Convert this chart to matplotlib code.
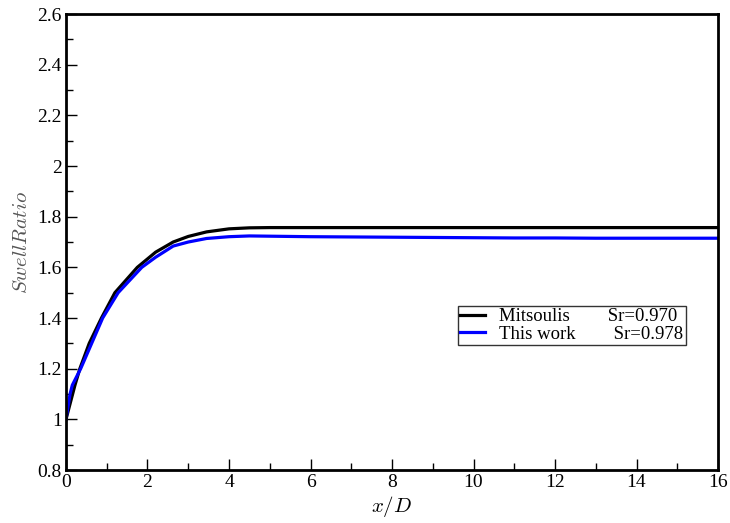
import numpy as np
import matplotlib.pyplot as plt
from matplotlib.ticker import MultipleLocator

# Mitsoulis reference curve
x_mit = [0.0, 0.22, 0.34, 0.57, 0.87, 1.2, 1.75, 2.2, 2.63, 3.0, 3.45, 4.0, 4.5, 5.0, 6.0, 8.0, 10.0, 12.0, 14.0, 16.0]
y_mit = [1.0, 1.135, 1.2, 1.3, 1.4, 1.5, 1.6, 1.66, 1.70, 1.722, 1.74, 1.752, 1.756, 1.757, 1.757, 1.757, 1.757, 1.757, 1.757, 1.757]

# this work
x_tw = [0.0, 0.1, 0.155, 0.36, 0.63, 0.9, 1.28, 1.86, 2.2, 2.63, 3.0, 3.45, 4.0, 4.5, 5.0, 6.0, 7.0, 8.0, 9.0, 10.0, 11.0, 12.0, 13.0, 14.0, 15.0, 16.0]
y_tw = [1.0, 1.1, 1.135, 1.2, 1.3, 1.4, 1.5, 1.6, 1.64, 1.684, 1.70, 1.714, 1.721, 1.724, 1.723, 1.721, 1.72, 1.719, 1.718, 1.717, 1.716, 1.716, 1.715, 1.715, 1.715, 1.715]

plt.rcParams['font.family'] = 'Liberation Serif'
plt.rcParams['mathtext.fontset'] = 'cm'

fig = plt.figure(figsize=(7.3, 5.23), dpi=100)
ax = fig.add_axes([0.0904, 0.1013, 0.8932, 0.8719])

ax.plot(x_mit, y_mit, color='black', lw=2.3, label='Mitsoulis        Sr=0.970')
ax.plot(x_tw, y_tw, color='blue', lw=2.3, label='This work        Sr=0.978')

ax.set_xlim(0, 16)
ax.set_ylim(0.8, 2.6)
ax.xaxis.set_major_locator(MultipleLocator(2))
ax.xaxis.set_minor_locator(MultipleLocator(1))
ax.yaxis.set_major_locator(MultipleLocator(0.2))
ax.yaxis.set_minor_locator(MultipleLocator(0.1))
ax.yaxis.set_major_formatter(plt.FuncFormatter(lambda v, p: f'{v:g}'))
ax.tick_params(which='major', direction='in', length=8, width=1, labelsize=14, pad=3, top=False, right=False)
ax.tick_params(which='minor', direction='in', length=5, width=1, top=False, right=False)
for s in ax.spines.values():
    s.set_linewidth(2)

ax.set_xlabel('$x/D$', fontsize=15, labelpad=2)
ax.set_ylabel('$Swell Ratio$', fontsize=15, color='#555555', labelpad=4)

leg = ax.legend(loc='center left', bbox_to_anchor=(0.601, 0.317), fontsize=13.5, frameon=True, fancybox=False,
                edgecolor='black', handlelength=1.35, handletextpad=0.75, borderpad=0.12, borderaxespad=0,
                labelspacing=0.0)
leg.get_frame().set_linewidth(1)

fig.savefig('out.png', dpi=100)
